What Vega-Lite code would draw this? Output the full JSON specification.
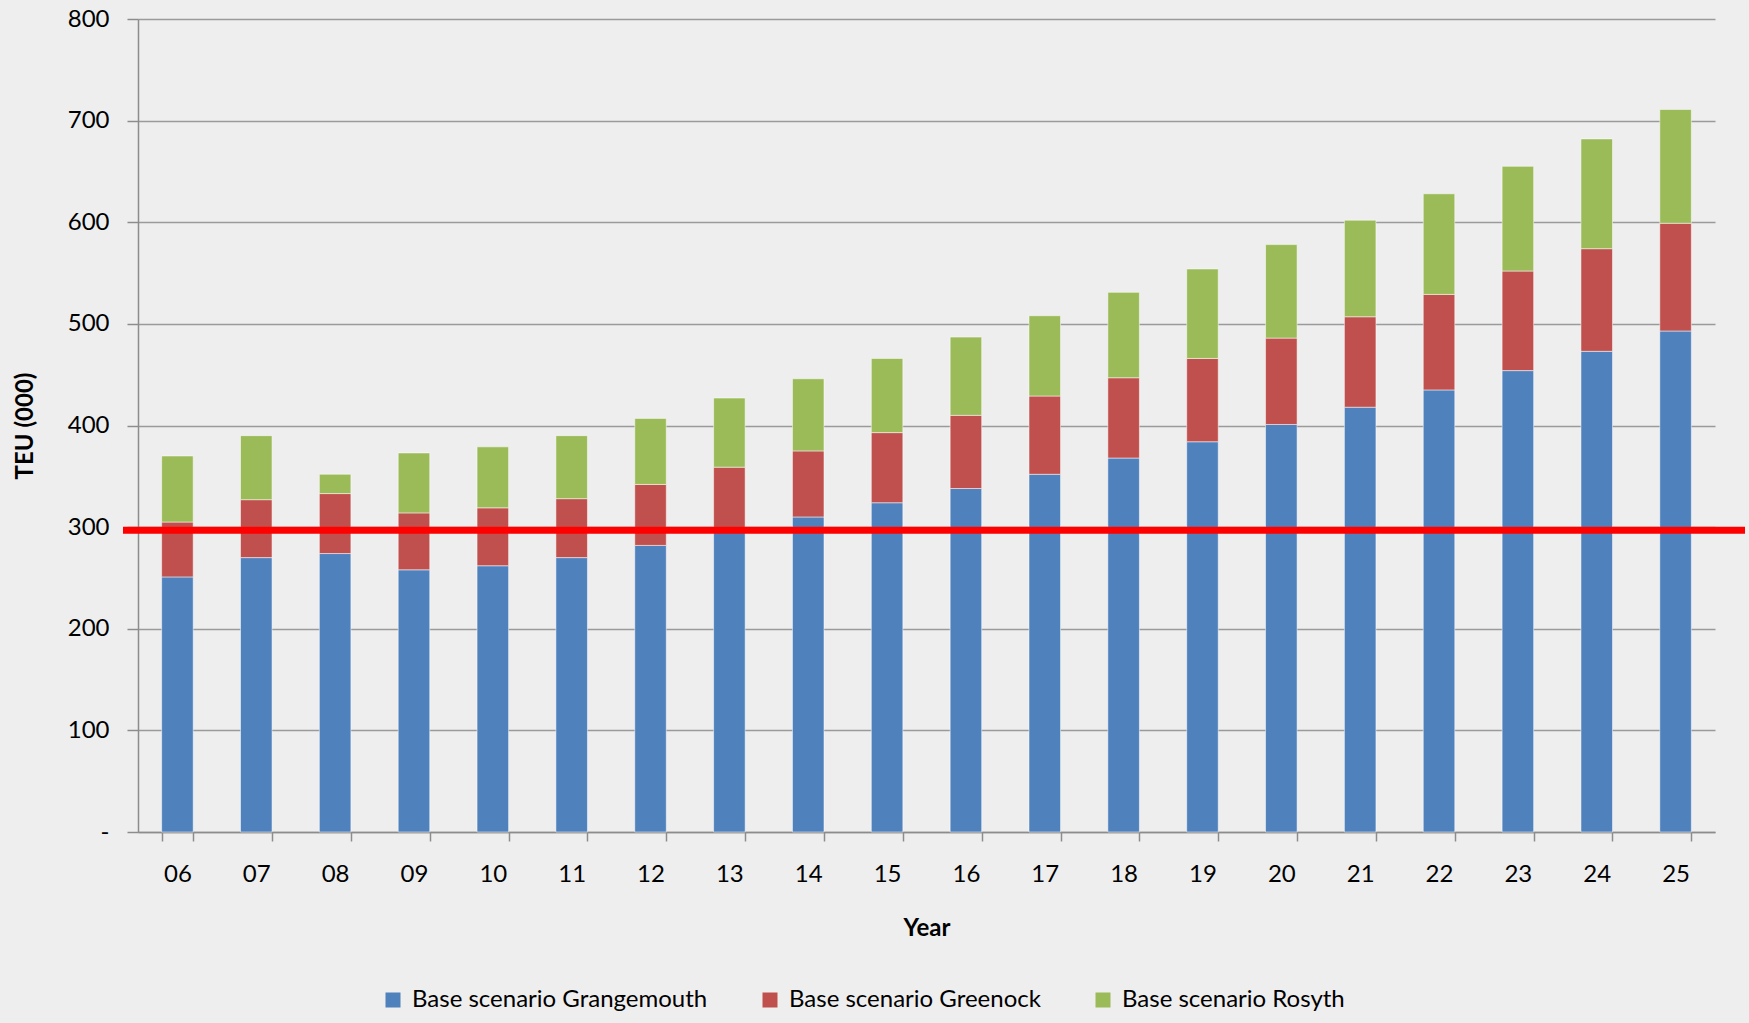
{
  "$schema": "https://vega.github.io/schema/vega-lite/v6.json",
  "width": 1577,
  "height": 813,
  "autosize": {"type": "none"},
  "padding": {"left": 138, "top": 19, "right": 34, "bottom": 191},
  "background": "#eeeeee",
  "config": {"view": {"stroke": null}, "font": "Lato"},
  "layer": [
    {
      "data": {
        "values": [
          {"year": "06", "series": "Base scenario Grangemouth", "teu": 251},
          {"year": "06", "series": "Base scenario Greenock", "teu": 54},
          {"year": "06", "series": "Base scenario Rosyth", "teu": 65},
          {"year": "07", "series": "Base scenario Grangemouth", "teu": 270},
          {"year": "07", "series": "Base scenario Greenock", "teu": 57},
          {"year": "07", "series": "Base scenario Rosyth", "teu": 63},
          {"year": "08", "series": "Base scenario Grangemouth", "teu": 274},
          {"year": "08", "series": "Base scenario Greenock", "teu": 59},
          {"year": "08", "series": "Base scenario Rosyth", "teu": 19},
          {"year": "09", "series": "Base scenario Grangemouth", "teu": 258},
          {"year": "09", "series": "Base scenario Greenock", "teu": 56},
          {"year": "09", "series": "Base scenario Rosyth", "teu": 59},
          {"year": "10", "series": "Base scenario Grangemouth", "teu": 262},
          {"year": "10", "series": "Base scenario Greenock", "teu": 57},
          {"year": "10", "series": "Base scenario Rosyth", "teu": 60},
          {"year": "11", "series": "Base scenario Grangemouth", "teu": 270},
          {"year": "11", "series": "Base scenario Greenock", "teu": 58},
          {"year": "11", "series": "Base scenario Rosyth", "teu": 62},
          {"year": "12", "series": "Base scenario Grangemouth", "teu": 282},
          {"year": "12", "series": "Base scenario Greenock", "teu": 60},
          {"year": "12", "series": "Base scenario Rosyth", "teu": 65},
          {"year": "13", "series": "Base scenario Grangemouth", "teu": 296},
          {"year": "13", "series": "Base scenario Greenock", "teu": 63},
          {"year": "13", "series": "Base scenario Rosyth", "teu": 68},
          {"year": "14", "series": "Base scenario Grangemouth", "teu": 310},
          {"year": "14", "series": "Base scenario Greenock", "teu": 65},
          {"year": "14", "series": "Base scenario Rosyth", "teu": 71},
          {"year": "15", "series": "Base scenario Grangemouth", "teu": 324},
          {"year": "15", "series": "Base scenario Greenock", "teu": 69},
          {"year": "15", "series": "Base scenario Rosyth", "teu": 73},
          {"year": "16", "series": "Base scenario Grangemouth", "teu": 338},
          {"year": "16", "series": "Base scenario Greenock", "teu": 72},
          {"year": "16", "series": "Base scenario Rosyth", "teu": 77},
          {"year": "17", "series": "Base scenario Grangemouth", "teu": 352},
          {"year": "17", "series": "Base scenario Greenock", "teu": 77},
          {"year": "17", "series": "Base scenario Rosyth", "teu": 79},
          {"year": "18", "series": "Base scenario Grangemouth", "teu": 368},
          {"year": "18", "series": "Base scenario Greenock", "teu": 79},
          {"year": "18", "series": "Base scenario Rosyth", "teu": 84},
          {"year": "19", "series": "Base scenario Grangemouth", "teu": 384},
          {"year": "19", "series": "Base scenario Greenock", "teu": 82},
          {"year": "19", "series": "Base scenario Rosyth", "teu": 88},
          {"year": "20", "series": "Base scenario Grangemouth", "teu": 401},
          {"year": "20", "series": "Base scenario Greenock", "teu": 85},
          {"year": "20", "series": "Base scenario Rosyth", "teu": 92},
          {"year": "21", "series": "Base scenario Grangemouth", "teu": 418},
          {"year": "21", "series": "Base scenario Greenock", "teu": 89},
          {"year": "21", "series": "Base scenario Rosyth", "teu": 95},
          {"year": "22", "series": "Base scenario Grangemouth", "teu": 435},
          {"year": "22", "series": "Base scenario Greenock", "teu": 94},
          {"year": "22", "series": "Base scenario Rosyth", "teu": 99},
          {"year": "23", "series": "Base scenario Grangemouth", "teu": 454},
          {"year": "23", "series": "Base scenario Greenock", "teu": 98},
          {"year": "23", "series": "Base scenario Rosyth", "teu": 103},
          {"year": "24", "series": "Base scenario Grangemouth", "teu": 473},
          {"year": "24", "series": "Base scenario Greenock", "teu": 101},
          {"year": "24", "series": "Base scenario Rosyth", "teu": 108},
          {"year": "25", "series": "Base scenario Grangemouth", "teu": 493},
          {"year": "25", "series": "Base scenario Greenock", "teu": 106},
          {"year": "25", "series": "Base scenario Rosyth", "teu": 112}
        ]
      },
      "mark": {"type": "bar", "stroke": "#ffffff", "strokeWidth": 1, "strokeOpacity": 0.5},
      "encoding": {
        "x": {
          "field": "year",
          "type": "ordinal",
          "scale": {"paddingInner": 0.6, "paddingOuter": 0.3},
          "axis": {
            "title": "Year",
            "titleFontSize": 24,
            "titleFontWeight": "bold",
            "titleColor": "#000000",
            "titlePadding": 30,
            "labelFontSize": 24,
            "labelColor": "#000000",
            "labelAngle": 0,
            "labelPadding": 21,
            "tickBand": "extent",
            "tickSize": 9,
            "tickColor": "#8c8c8c",
            "tickWidth": 1.5,
            "domainColor": "#8c8c8c",
            "domainWidth": 1.5,
            "grid": false
          }
        },
        "y": {
          "field": "teu",
          "type": "quantitative",
          "stack": "zero",
          "scale": {"domain": [0, 800]},
          "axis": {
            "title": "TEU (000)",
            "titleFontSize": 24,
            "titleFontWeight": "bold",
            "titleColor": "#000000",
            "titlePadding": 30,
            "values": [0, 100, 200, 300, 400, 500, 600, 700, 800],
            "labelExpr": "datum.value == 0 ? '-\u2002' : datum.label",
            "labelFontSize": 24,
            "labelColor": "#000000",
            "labelPadding": 18,
            "tickSize": 11,
            "tickColor": "#8c8c8c",
            "tickWidth": 1.5,
            "domainColor": "#8c8c8c",
            "domainWidth": 1.5,
            "grid": true,
            "gridColor": "#9a9a9a",
            "gridWidth": 1.5
          }
        },
        "color": {
          "field": "series",
          "type": "nominal",
          "scale": {
            "domain": ["Base scenario Grangemouth", "Base scenario Greenock", "Base scenario Rosyth"],
            "range": ["#4f81bd", "#c0504d", "#9bbb59"]
          },
          "legend": {
            "title": null,
            "orient": "none",
            "direction": "horizontal",
            "legendX": 243,
            "legendY": 969,
            "labelFontSize": 24,
            "labelLimit": 0,
            "labelColor": "#000000",
            "symbolType": "square",
            "symbolSize": 225,
            "symbolStrokeWidth": 0,
            "labelOffset": 7,
            "columnPadding": 50
          }
        },
        "order": {"field": "series", "sort": "ascending"}
      }
    },
    {
      "data": {"values": [{"threshold": 297}]},
      "mark": {"type": "rule", "color": "#ff0000", "strokeWidth": 7, "xOffset": -15, "x2Offset": 30},
      "encoding": {
        "y": {"field": "threshold", "type": "quantitative"},
        "x": {"value": 0},
        "x2": {"value": "width"}
      }
    }
  ]
}
